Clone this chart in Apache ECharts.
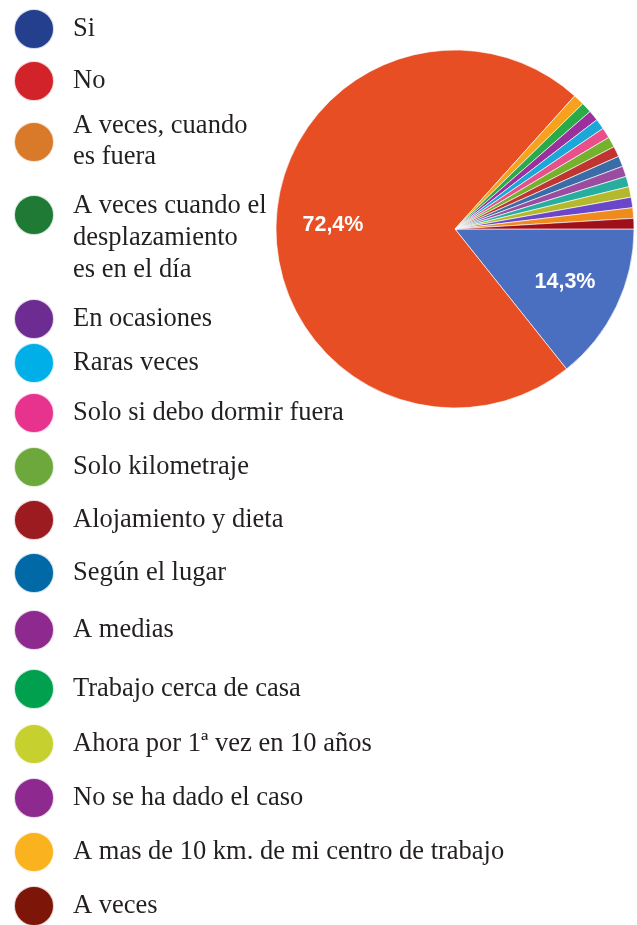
<!DOCTYPE html>
<html>
<head>
<meta charset="utf-8">
<script src="https://cdn.jsdelivr.net/npm/echarts@6/dist/echarts.min.js"></script>
<style>
  html, body { margin: 0; padding: 0; background: #fff; }
  #main { width: 637px; height: 925px; }
</style>
</head>
<body>
<div id="main"></div>
<script>
// respuestas, en el orden de la leyenda
var categories = [
  'Si',
  'No',
  'A veces, cuando\nes fuera',
  'A veces cuando el\ndesplazamiento\nes en el día',
  'En ocasiones',
  'Raras veces',
  'Solo si debo dormir fuera',
  'Solo kilometraje',
  'Alojamiento y dieta',
  'Según el lugar',
  'A medias',
  'Trabajo cerca de casa',
  'Ahora por 1ª vez en 10 años',
  'No se ha dado el caso',
  'A mas de 10 km. de mi centro de trabajo',
  'A veces'
];
// porcentajes (%)
var percentages = [14.3, 72.4, 1.0, 0.95, 0.95, 0.95, 0.95, 0.95, 0.95, 0.95, 0.95, 0.95, 0.95, 0.95, 0.95, 0.95];

// colores del gráfico y de la leyenda (son distintos en el original)
var pieColors = ['#4a6fc1', '#e84e24', '#f7a21e', '#2aab49', '#9a2f9d', '#1ba8d8', '#e94f8b', '#74b12c',
  '#c13530', '#3a6da8', '#9a4d9f', '#27ae9e', '#b5b82b', '#6a46c8', '#ef8a1d', '#9e111b'];
var legendColors = ['#253f8f', '#d2232a', '#d97a2b', '#1e7a34', '#6d2c91', '#00aee8', '#e8338e', '#6ca83b',
  '#9b1b20', '#0069a6', '#8e2a8f', '#00a04f', '#c6d130', '#8e2a8f', '#fbb21f', '#7d1608'];

var legendCenters = [28, 80, 142, 215, 318, 362, 412, 466, 519, 572, 629, 688, 743, 797, 851, 905];

var cx = 455, cy = 229;

var legends = [];
for (var i = 0; i < categories.length; i++) {
  var lines = categories[i].split('\n');
  var boxH, fmt = null;
  if (lines.length === 1) {
    boxH = 40;
  } else if (lines.length === 2) {
    boxH = 62;
  } else {
    // el círculo queda a la altura de la primera línea
    boxH = 46 + 32 * 3;
    fmt = function (name) {
      return '{gap| }\n' + name.split('\n').map(function (l) { return '{t|' + l + '}'; }).join('\n');
    };
  }
  legends.push({
    orient: 'vertical',
    left: 13,
    top: legendCenters[i] - boxH / 2,
    padding: 0,
    icon: 'circle',
    itemWidth: 40,
    itemHeight: 40,
    selectedMode: false,
    formatter: fmt,
    textStyle: {
      fontFamily: 'Liberation Serif',
      fontSize: 26.5,
      color: '#231f20',
      lineHeight: 31,
      padding: [0, 0, 0, 14],
      rich: {
        gap: { lineHeight: 46, height: 46, fontSize: 10 },
        t: { fontFamily: 'Liberation Serif', fontSize: 26.5, color: '#231f20', lineHeight: 32 }
      }
    },
    data: [{ name: categories[i], itemStyle: { color: legendColors[i] } }]
  });
}

var pieData = [];
for (var j = 0; j < categories.length; j++) {
  pieData.push({ name: categories[j], value: percentages[j], itemStyle: { color: pieColors[j] } });
}

var chart = echarts.init(document.getElementById('main'));
chart.setOption({
  animation: false,
  legend: legends,
  series: [{
    type: 'pie',
    center: [cx, cy],
    radius: 179,
    startAngle: 0,
    clockwise: true,
    avoidLabelOverlap: false,
    itemStyle: { borderColor: 'rgba(255,255,255,0.8)', borderWidth: 0.8 },
    label: {
      show: true,
      position: 'inside',
      color: '#fff',
      fontFamily: 'Liberation Sans',
      fontWeight: 'bold',
      fontSize: 21.5,
      formatter: function (p) {
        if (p.value < 5) return '';
        return p.value.toFixed(1).replace('.', ',') + '%';
      }
    },
    labelLayout: function (p) {
      var lx = p.labelRect.x + p.labelRect.width / 2;
      var ly = p.labelRect.y + p.labelRect.height / 2;
      return { dx: (lx - cx) * 0.32, dy: (ly - cy) * 0.32 };
    },
    labelLine: { show: false },
    emphasis: { disabled: true },
    data: pieData
  }]
});
</script>
</body>
</html>
